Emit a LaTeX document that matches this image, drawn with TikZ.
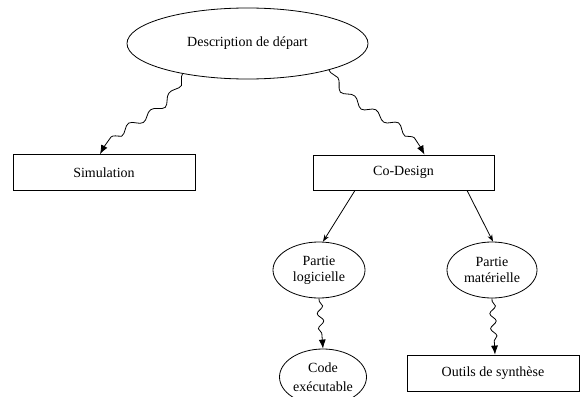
\documentclass[tikz,border=0pt]{standalone}
\usepackage{fontspec}
\setmainfont{Liberation Serif}
\usepackage{tikz}
\usetikzlibrary{positioning,arrows.meta,shapes.geometric,decorations.pathmorphing}
\tikzset{
  boite/.style={draw,rectangle,minimum width=182pt,minimum height=36pt,inner sep=0pt},
  bulle/.style={draw,ellipse,minimum width=92pt,minimum height=56pt,inner sep=0pt,align=center},
  vague/.style={-{Latex[length=9pt,width=7pt]},decorate,
    decoration={snake,amplitude=3.5pt,segment length=26pt,pre length=3pt,post length=8pt}},
  fleche/.style={-{Stealth[length=7pt,width=5pt]}}
}

\begin{document}
\begin{tikzpicture}[x=1pt,y=-1pt,line width=0.8pt,font=\fontsize{14}{16}\selectfont]
\useasboundingbox (0,0) rectangle (580,396);
\node[draw,ellipse,minimum width=241pt,minimum height=71pt,inner sep=0pt] (depart) at (247.5,43.5) {Description de départ};
\node[boite] (simu) at (104,172.5) {Simulation};
\node[boite,minimum width=181pt,minimum height=35pt] (codesign) at (403.5,172.5) {Co-Design};
\node[bulle] (logi) at (319,270) {Partie\\logicielle};
\node[bulle,minimum width=90pt] (mate) at (492,270) {Partie\\matérielle};
\node[bulle,minimum width=87pt] (code) at (323,377) {Code\\[3pt]exécutable};
\node[boite,minimum width=172pt] (outils) at (493,373) {Outils de synthèse};
\draw[vague] (depart.205) to[out=250,in=65] ([xshift=-4pt]simu.north);
\draw[vague] (depart.342) to[out=-60,in=115] ([xshift=21pt]codesign.north);
\draw[fleche] ([xshift=-48.5pt]codesign.south) -- ([xshift=4pt]logi.north);
\draw[fleche] ([xshift=63.5pt]codesign.south) -- ([xshift=1pt]mate.north);
\draw[vague,decoration={segment length=15pt,amplitude=3pt}] (logi.south) -- (code.north);
\draw[vague,decoration={segment length=15pt,amplitude=3pt}] (mate.south) -- ([xshift=2pt]outils.north);
\end{tikzpicture}
\end{document}
